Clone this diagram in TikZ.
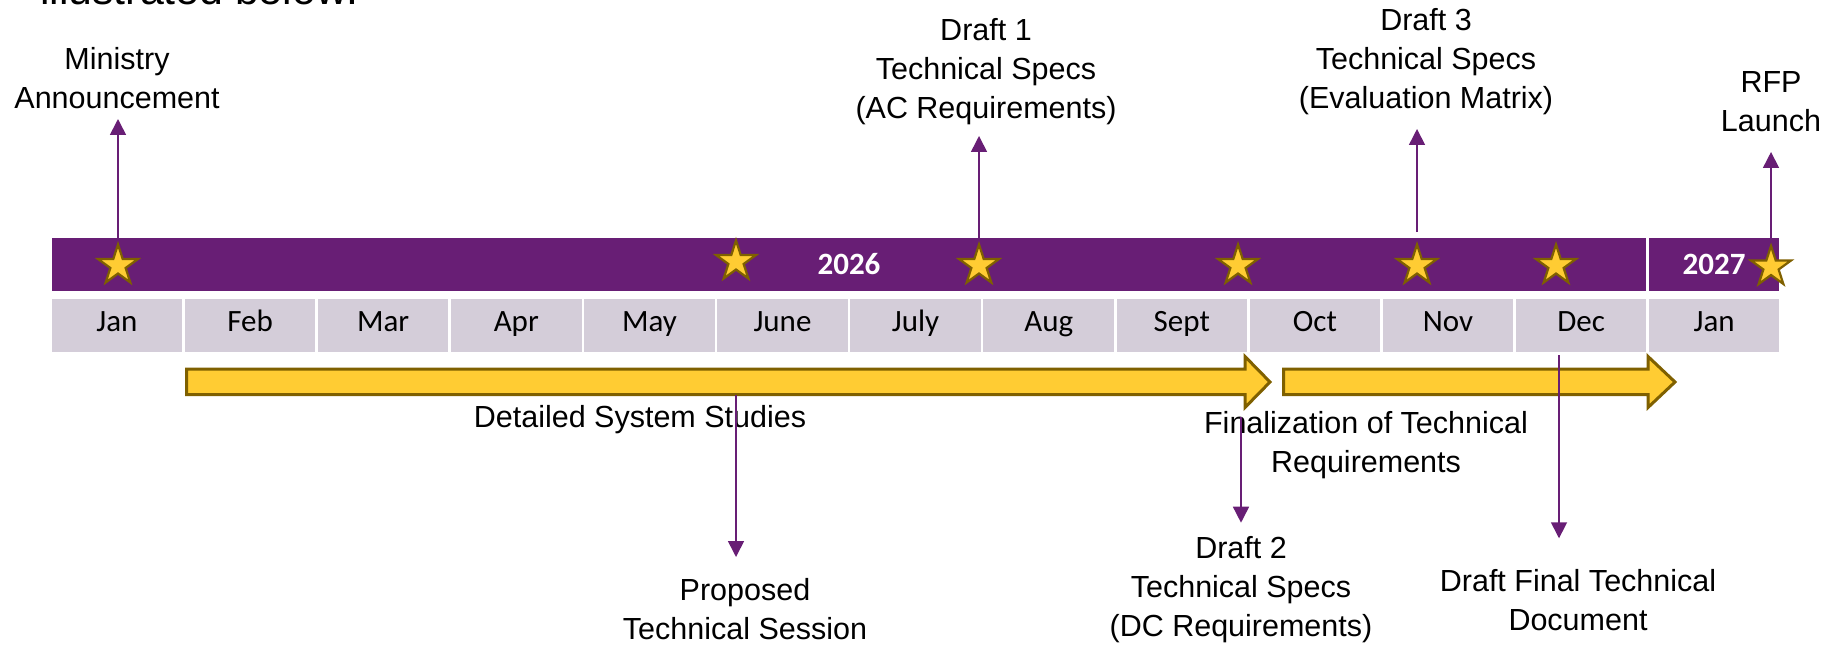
\documentclass[tikz,border=0pt]{standalone}
\usepackage{fontspec}
\setmainfont{Liberation Sans}
\newfontfamily\calibri{Carlito}
\usetikzlibrary{positioning, shapes.geometric, arrows.meta}
\definecolor{tlpurple}{HTML}{681E75}
\definecolor{tlgrey}{HTML}{D4CDD9}
\definecolor{tlgold}{HTML}{FFCC33}
\definecolor{tlbrown}{HTML}{7F6000}

\begin{document}
\begin{tikzpicture}[
         x=1pt, y=-1pt,
         month/.style={rectangle, fill=tlgrey, minimum width=130.5pt, minimum height=53pt, inner sep=0pt,
            font=\calibri\fontsize{31}{37}\selectfont, text height=20pt, text depth=7.6pt},
         yearbar/.style={rectangle, fill=tlpurple, minimum height=53pt, inner sep=0pt, text=white,
            font=\calibri\bfseries\fontsize{31}{37}\selectfont, text height=20pt, text depth=1pt},
         event/.style={star, star points=5, star point ratio=2.618, minimum size=42pt, inner sep=0pt,
            fill=tlgold, draw=tlbrown, line width=2.2pt},
         note/.style={align=center, inner sep=0pt, font=\fontsize{30.5}{39}\selectfont,
            execute at begin node=\strut, execute at end node=\strut},
         phase/.style={fill=tlgold, draw=tlbrown, line width=3pt, line join=miter},
         milestone/.style={draw=tlpurple, line width=1.6pt, -{Triangle[length=16pt, width=16pt]}}
      ]
         \clip (0,0) rectangle (1835,647);

         % Heading cut off by the top edge
         \node[anchor=base west, inner sep=0pt, font=\fontsize{42.8}{50}\selectfont] (heading) at (40,5) {illustrated below:};

         % Year bars
         \node[yearbar, minimum width=1594pt] (y2026) at (849,264.5) {2026};
         \node[yearbar, minimum width=130pt] (y2027) at (1714,264.5) {2027};

         % Month boxes
         \foreach \m [count=\i from 0] in {Jan,Feb,Mar,Apr,May,June,July,Aug,Sept,Oct,Nov,Dec,Jan}
            \node[month] (m\i) at ({117+133.1*\i},325.5) {\m};

         % Stars on the bar
         \node[event] (sJan) at (118,265.5) {};
         \node[event] (sJun) at (736,261.5) {};
         \node[event] (sJul) at (979,265.5) {};
         \node[event] (sSep) at (1238,265.5) {};
         \node[event] (sNov) at (1417,265.5) {};
         \node[event] (sDec) at (1556,265.5) {};
         \node[event] (sRfp) at (1771,267) {};

         % Phase arrows
         \draw[phase] (186.5,369) -- (1245,369) -- (1245,356.5) -- (1270,382) -- (1245,407.5) -- (1245,394.5) -- (186.5,394.5) -- cycle;
         \draw[phase] (1283.5,369) -- (1648,369) -- (1648,356.5) -- (1675,382) -- (1648,407.5) -- (1648,394.5) -- (1283.5,394.5) -- cycle;
         \node[note, anchor=north] (studies) at (640,400) {Detailed System Studies};
         \node[note, anchor=north] (final) at (1366,411) {Finalization of Technical\\Requirements};

         % Ends of the milestone arrows
         \coordinate (tMinistry) at (118,119);
         \coordinate (tDraft1) at (979,136);
         \coordinate (bDraft3) at (1417,232);
         \coordinate (tDraft3) at (1417,129);
         \coordinate (tRfp) at (1771,152);
         \coordinate (bSession) at (736,395);
         \coordinate (tSession) at (736,557);
         \coordinate (bDraft2) at (1241,417);
         \coordinate (tDraft2) at (1241,522.7);
         \coordinate (bFinal) at (1559,355);
         \coordinate (tFinal) at (1559,538.3);

         % Milestone labels
         \node[note, above=-1pt of tMinistry, xshift=-1pt] (ministry) {Ministry\\Announcement};
         \node[note, above=5.8pt of tDraft1, xshift=7pt] (draft1) {Draft 1\\Technical Specs\\(AC Requirements)};
         \node[note, above=8.4pt of tDraft3, xshift=9pt] (draft3) {Draft 3\\Technical Specs\\(Evaluation Matrix)};
         \node[note, above=8.7pt of tRfp] (rfp) {RFP\\Launch};
         \node[note, below=20.7pt of tSession, xshift=9pt] (session) {Proposed\\Technical Session};
         \node[note, below=13.5pt of tDraft2] (draft2) {Draft 2\\Technical Specs\\(DC Requirements)};
         \node[note, below=30.4pt of tFinal, xshift=19pt] (finaldoc) {Draft Final Technical\\Document};

         % Milestone arrows
         \draw[milestone] (sJan.north) -- (tMinistry);
         \draw[milestone] (sJul.north) -- (tDraft1);
         \draw[milestone] (bDraft3) -- (tDraft3);
         \draw[milestone] (sRfp.north) -- (tRfp);
         \draw[milestone] (bSession) -- (tSession);
         \draw[milestone] (bDraft2) -- (tDraft2);
         \draw[milestone] (bFinal) -- (tFinal);
      \end{tikzpicture}
\end{document}
